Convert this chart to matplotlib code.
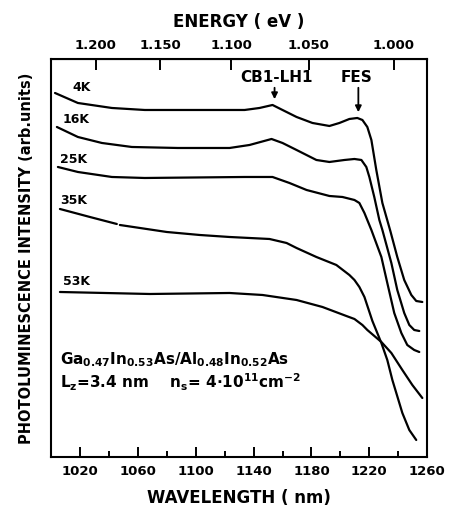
import numpy as np
import matplotlib
matplotlib.use("Agg")
import matplotlib.pyplot as plt
from matplotlib.ticker import FixedLocator

# data: wavelength (nm) and intensity (arb. units)
wl_4k = [1002.8, 1018.6, 1042.1, 1064.8, 1133.8, 1144.1, 1153.1, 1160.0, 1169.7, 1180.7,
         1192.4, 1199.3, 1206.2, 1211.7, 1215.2, 1218.6, 1221.4, 1224.8, 1229.0, 1234.5,
         1239.3, 1244.1, 1249.0, 1252.4, 1256.6]
pl_4k = [364, 354, 349, 347, 347, 349, 352, 347, 340, 334,
         331, 334, 338, 339, 337, 330, 317, 287, 254, 226,
         200, 177, 162, 156, 155]

wl_16k = [1004.1, 1018.6, 1035.2, 1055.9, 1087.6, 1123.4, 1137.2, 1152.4, 1160.0, 1169.7,
          1183.4, 1192.4, 1202.8, 1209.7, 1214.5, 1217.9, 1220.0, 1223.4, 1226.9, 1229.0,
          1235.2, 1239.3, 1244.1, 1247.6, 1251.0, 1254.5]
pl_16k = [330, 320, 314, 310, 309, 309, 312, 318, 314, 307,
          297, 295, 297, 298, 297, 290, 280, 260, 237, 227,
          194, 167, 144, 132, 127, 126]

wl_25k = [1004.8, 1018.6, 1042.1, 1064.8, 1133.8, 1153.1, 1164.8, 1176.6, 1192.4, 1201.4,
          1209.7, 1213.1, 1216.6, 1221.4, 1228.3, 1232.4, 1237.2, 1242.1, 1246.2, 1251.0,
          1254.5]
pl_25k = [290, 285, 280, 279, 280, 280, 274, 267, 261, 260,
          257, 254, 244, 227, 200, 174, 144, 124, 112, 107,
          105]

# the 35K trace has a short break near 1046 nm
wl_35k = [1006.2, 1026.9, 1045.5, 1046.5, 1047.6, 1080.0, 1102.8, 1123.4, 1151.0, 1162.8,
          1169.7, 1183.4, 1197.2, 1206.2, 1209.7, 1213.1, 1216.6, 1222.1, 1228.3, 1232.4,
          1235.9, 1242.8, 1247.6, 1252.4]
pl_35k = [248, 240, 233, np.nan, 232, 225, 222, 220, 218, 214,
          209, 200, 192, 182, 177, 170, 160, 136, 114, 97,
          77, 44, 27, 17]

wl_53k = [1006.2, 1068.3, 1123.4, 1146.2, 1169.7, 1187.6, 1204.1, 1209.7, 1215.2, 1218.6,
          1228.3, 1235.2, 1242.8, 1249.7, 1256.6]
pl_53k = [165, 163, 164, 162, 157, 150, 141, 138, 132, 127,
          115, 104, 87, 72, 59]

temps = ["4K", "16K", "25K", "35K", "53K"]
label_pos = [(1014.5, 369), (1008.3, 337), (1006.2, 297), (1006.2, 256), (1008.0, 175)]

energy_ticks = [1.200, 1.150, 1.100, 1.050, 1.000]
HC = 1237.0

plt.rcParams['font.family'] = ['DejaVu Sans']
plt.rcParams['font.weight'] = 'bold'
plt.rcParams['mathtext.default'] = 'bf'

fig = plt.figure(figsize=(4.55, 5.08), dpi=100)
ax = fig.add_axes([0.112, 0.1004, 0.827, 0.7835])

series = [(wl_4k, pl_4k), (wl_16k, pl_16k), (wl_25k, pl_25k), (wl_35k, pl_35k), (wl_53k, pl_53k)]
for (wl, pl), name, pos in zip(series, temps, label_pos):
    ax.plot(wl, pl, color='black', lw=1.6, solid_capstyle='round', solid_joinstyle='round')
    ax.text(pos[0], pos[1], name, fontsize=9, fontweight='bold', ha='left', va='center')

ax.set_xlim(1000, 1260)
ax.set_ylim(0, 398)
ax.set_yticks([])
ax.xaxis.set_major_locator(FixedLocator([1020, 1060, 1100, 1140, 1180, 1220, 1260]))
ax.xaxis.set_minor_locator(FixedLocator([1040, 1080, 1120, 1160, 1200, 1240]))
ax.tick_params(axis='x', which='major', direction='in', length=7, width=1.4, labelsize=9.5, pad=6)
ax.tick_params(axis='x', which='minor', direction='in', length=4, width=1.4)
for sp in ax.spines.values():
    sp.set_linewidth(1.5)

ax.set_xlabel('WAVELENGTH ( nm)', fontsize=12, fontweight='bold', labelpad=8)
ax.set_ylabel('PHOTOLUMINESCENCE INTENSITY (arb.units)', fontsize=10.5, fontweight='bold', labelpad=12)


def wl_to_e(x):
    x = np.asarray(x, dtype=float)
    with np.errstate(divide='ignore'):
        return HC / x


secax = ax.secondary_xaxis('top', functions=(wl_to_e, wl_to_e))
secax.set_xticks(energy_ticks)
secax.set_xticklabels(['%.3f' % e for e in energy_ticks])
secax.tick_params(axis='x', direction='in', length=8, width=1.4, labelsize=9.5, pad=5)
secax.set_xlabel('ENERGY ( eV )', fontsize=12, fontweight='bold', labelpad=9)

# peak markers
ax.text(1156, 372, 'CB1-LH1', fontsize=11, fontweight='bold', ha='center', va='bottom')
ax.annotate('', xy=(1154.5, 355), xytext=(1154.5, 372),
            arrowprops=dict(arrowstyle='-|>', color='black', lw=1.3, mutation_scale=9))
ax.text(1211, 372, 'FES', fontsize=11, fontweight='bold', ha='center', va='bottom')
ax.annotate('', xy=(1212.4, 342), xytext=(1212.4, 372),
            arrowprops=dict(arrowstyle='-|>', color='black', lw=1.3, mutation_scale=9))

ax.text(1006, 97, 'Ga$_{0.47}$In$_{0.53}$As/Al$_{0.48}$In$_{0.52}$As', fontsize=11,
        fontweight='bold', ha='left', va='center')
ax.text(1006, 75, 'L$_{z}$=3.4 nm    n$_{s}$= 4$\\cdot$10$^{11}$cm$^{-2}$', fontsize=11,
        fontweight='bold', ha='left', va='center')

fig.savefig('out.png', dpi=100)
